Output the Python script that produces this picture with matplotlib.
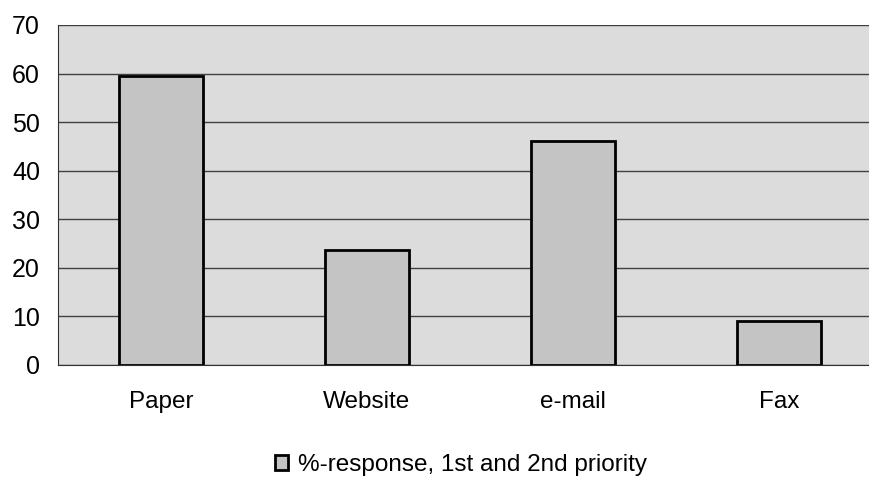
import matplotlib.pyplot as plt
import numpy as np

plt.rcParams['font.family'] = ['Liberation Sans', 'DejaVu Sans']

kategori = ['Paper', 'Website', 'e-mail', 'Fax']
persen = [59.6, 23.6, 46.2, 9.0]
nama_seri = '%-response, 1st and 2nd priority'

fig = plt.figure(figsize=(8.7, 4.78), dpi=100)
# plot area spans a little past the right edge, like the original sheet
ax = fig.add_axes([58 / 870, 1 - 365 / 478, 824 / 870, 340 / 478])
ax.set_facecolor('#dcdcdc')

x_pos = np.arange(len(kategori))
bars = ax.bar(x_pos, persen, width=0.41, color='#c4c4c4', edgecolor='black',
              linewidth=2, zorder=3, label=nama_seri)

ax.set_xlim(-0.5, len(kategori) - 0.5)
ax.set_ylim(0, 70)
ax.set_yticks(np.arange(0, 71, 10))
ax.yaxis.grid(True, color='#404040', linewidth=1, zorder=1)
ax.set_axisbelow(True)

ax.set_xticks(x_pos)
ax.set_xticklabels(kategori)
ax.tick_params(axis='x', length=0, pad=19, labelsize=17.5)
ax.tick_params(axis='y', length=0, pad=13, labelsize=18)

for s in ['top', 'right']:
    ax.spines[s].set_visible(False)
ax.spines['left'].set_color('#303030')
ax.spines['bottom'].set_color('#303030')

fig.legend(handles=[bars], labels=[nama_seri], loc='center',
           bbox_to_anchor=(461 / 870, 1 - 465 / 478), frameon=False,
           fontsize=17.5, handlelength=0.55, handleheight=0.55, handletextpad=0.4,
           borderpad=0)

plt.savefig('out.png', dpi=100)
